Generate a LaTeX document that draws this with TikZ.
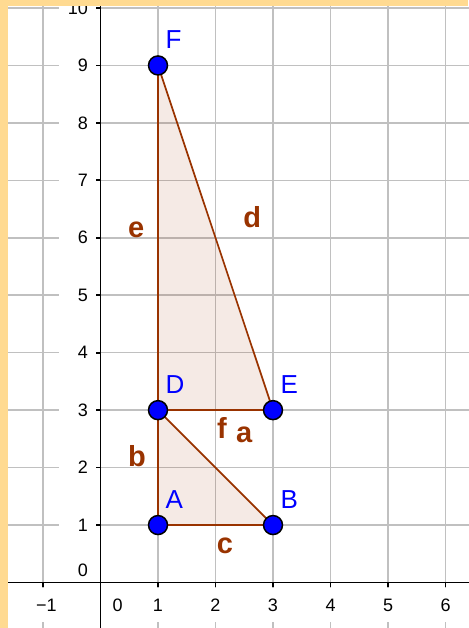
\documentclass[tikz,border=0pt]{standalone}
\usepackage{fontspec}
\setmainfont{Liberation Sans}
\usepackage{tikz}
\usetikzlibrary{calc}
\definecolor{segbrown}{HTML}{993300}
\definecolor{ptblue}{HTML}{0000FF}
\definecolor{gridgray}{HTML}{C0C0C0}
\definecolor{bandorange}{HTML}{FFDA91}
\tikzset{
  gridline/.style={draw=gridgray,line width=1.6pt},
  axisline/.style={draw=black,line width=1.8pt},
  ylab/.style={fill=white,anchor=east,inner xsep=8pt,inner ysep=2pt,
    text width=21pt,align=right,font=\fontsize{18}{18}\selectfont},
  xlab/.style={fill=white,minimum height=34pt,inner xsep=3pt,
    font=\fontsize{18}{18}\selectfont},
  polyfill/.style={fill=segbrown,fill opacity=0.1},
  seg/.style={draw=segbrown,line width=1.7pt},
  dot/.style={circle,draw=black,line width=1.5pt,fill=ptblue,
    minimum size=19pt,inner sep=0pt},
  ptlab/.style={anchor=base west,inner sep=0pt,text=ptblue,
    font=\fontsize{26}{26}\selectfont},
  seglab/.style={anchor=base west,inner sep=0pt,text=segbrown,
    font=\fontsize{29}{29}\selectfont\bfseries}
}

\begin{document}
\begin{tikzpicture}[x=57.5pt,y=57.45pt]
\useasboundingbox (-100.5pt,-45.5pt) rectangle (367.5pt,582.5pt);

% grid
\foreach \i in {-1,1,2,...,6}
  \draw[gridline] (\i,-0.8) -- (\i,10.2);
\foreach \j in {1,...,10}
  \draw[gridline] (-1.8,\j) -- (6.4,\j);

% axis numbers
\node[xlab, xshift=3.4pt, yshift=-22.5pt] (xm1) at (-1,0) {−1};
\node[xlab, yshift=-22.5pt] (x0) at (0.296,0) {0};
\foreach \i in {1,...,6}
  \node[xlab, yshift=-22.5pt] (x\i) at (\i,0) {\i};
\node[ylab, xshift=-4.5pt, yshift=12pt] (y0) at (0,0) {0};
\foreach \j in {1,...,10}
  \node[ylab, xshift=-4.5pt] (y\j) at (0,\j) {\j};

% axes
\draw[axisline] (-1.8,0) -- (6.4,0);
\draw[axisline] (0,-0.8) -- (0,10.2);
\foreach \i in {-1,1,2,...,6}
  \draw[axisline] (\i,0) -- ++(0,-5pt);
\foreach \j in {1,...,10}
  \draw[axisline] (0,\j) -- ++(-4.5pt,0);

% points
\coordinate (A) at (1,1);
\coordinate (B) at (3,1);
\coordinate (D) at (1,3);
\coordinate (E) at (3,3);
\coordinate (F) at (1,9);

% triangles
\fill[polyfill] (A) -- (B) -- (D) -- cycle;
\fill[polyfill] (D) -- (E) -- (F) -- cycle;
\draw[seg] (A) -- (B);
\draw[seg] (B) -- (D);
\draw[seg] (D) -- (A);
\draw[seg] (D) -- (E);
\draw[seg] (E) -- (F);
\draw[seg] (F) -- (D);

\foreach \p in {A,B,D,E,F} {
  \node[dot] (\p dot) at (\p) {};
  \node[ptlab] (\p lab) at ($(\p)+(7.5pt,17pt)$) {\p};
}

% segment names
\node[seglab] (alab) at (2.357,2.432) {a};
\node[seglab] (blab) at (0.478,2.014) {b};
\node[seglab] (clab) at (2.021,0.509) {c};
\node[seglab] (dlab) at (2.483,6.176) {d};
\node[seglab] (elab) at (0.478,6.007) {e};
\node[seglab] (flab) at (2.026,2.502) {f};

% window edges
\fill[bandorange] (-100.5pt,-45.5pt) rectangle (-92.2pt,582.5pt);
\fill[bandorange] (-100.5pt,576.5pt) rectangle (367.5pt,582.5pt);
\end{tikzpicture}
\end{document}
